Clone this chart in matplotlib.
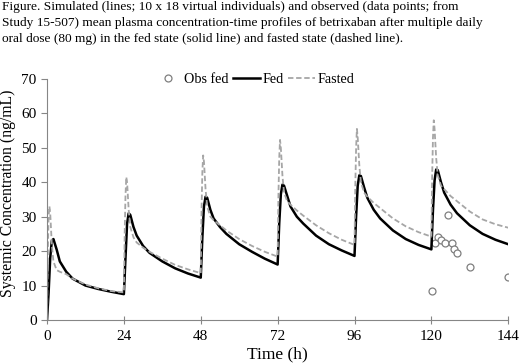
import matplotlib
matplotlib.use("Agg")
import matplotlib.pyplot as plt

plt.rcParams['font.family'] = ['Liberation Serif', 'DejaVu Serif']

# simulated fed profile (h, ng/mL)
fed_time = [0, 0.5, 1, 1.5, 2, 3, 4, 6, 8, 12, 16, 20, 24,
            24.5, 25, 25.5, 26, 27, 28, 30, 32, 36, 40, 44, 48,
            48.5, 49, 49.5, 50, 51, 52, 54, 56, 60, 64, 68, 72,
            72.5, 73, 73.5, 74, 75, 76, 78, 80, 84, 88, 92, 96,
            96.5, 97, 97.5, 98, 99, 100, 102, 104, 108, 112, 116, 120,
            120.5, 121, 121.5, 122, 123, 124, 126, 128, 132, 136, 140, 144]
fed_conc = [0, 8, 18, 23, 23.5, 20.5, 17, 14, 12, 10, 9, 8.2, 7.5,
            18, 28, 31, 30.5, 27, 24.5, 21.5, 19.5, 17, 15, 13.5, 12.3,
            24, 33, 35.8, 35.5, 32, 29.5, 27, 25, 22, 19.8, 17.8, 16.1,
            28, 36.5, 39.3, 39, 36, 33, 30, 28, 24.5, 22, 20.2, 18.6,
            30, 39, 42, 41.8, 38.5, 35.5, 32, 29.5, 26, 23.5, 21.8, 20.5,
            32, 40.5, 43.7, 43.5, 40, 37, 33.5, 31, 27.5, 25, 23.3, 22]

# simulated fasted profile
fasted_time = [0, 0.25, 0.5, 0.75, 1, 1.5, 2, 3, 4, 6, 8, 12, 16, 20, 24,
               24.25, 24.5, 24.75, 25, 25.5, 26, 27, 28, 30, 32, 36, 40, 44, 48,
               48.25, 48.5, 48.75, 49, 49.5, 50, 51, 52, 54, 56, 60, 64, 68, 72,
               72.25, 72.5, 72.75, 73, 73.5, 74, 75, 76, 78, 80, 84, 88, 92, 96,
               96.25, 96.5, 96.75, 97, 97.5, 98, 99, 100, 102, 104, 108, 112, 116, 120,
               120.25, 120.5, 120.75, 121, 121.5, 122, 123, 124, 126, 128, 132, 136, 140, 144]
fasted_conc = [0, 20, 30, 33, 31, 22, 17, 14.5, 14, 13.3, 12, 10.3, 9.2, 8.4, 8.0,
               25, 36, 41.5, 40, 32, 27, 24, 22.5, 21, 19.8, 17.8, 16, 14.7, 13.6,
               32, 43, 47.8, 46, 38, 33, 30, 29, 27.5, 26, 23.5, 21.5, 19.8, 18.4,
               36, 47, 52.3, 50, 42, 37, 34.5, 33.5, 31.8, 30.3, 27.5, 25.2, 23.3, 21.8,
               39, 50, 55.5, 53, 45, 40, 37, 35.8, 34, 32.5, 29.5, 27.2, 25.5, 24.2,
               42, 53, 58, 55.5, 47, 42, 39, 38, 36, 34.5, 31.5, 29.2, 27.8, 26.8]

# observed fed data (study 15-507)
obs_time = [120.2, 121.0, 122.1, 123.1, 124.2, 125.2, 126.3, 127.2, 128.1, 132.2, 144.0]
obs_conc = [8.5, 22.5, 24.2, 23.1, 22.3, 30.5, 22.5, 20.7, 19.5, 15.5, 12.5]

x_ticks = [0, 24, 48, 72, 96, 120, 144]

caption = ("Figure. Simulated (lines; 10 x 18 virtual individuals) and observed (data points; from\n"
           "Study 15-507) mean plasma concentration-time profiles of betrixaban after multiple daily\n"
           "oral dose (80 mg) in the fed state (solid line) and fasted state (dashed line).")

fig = plt.figure(figsize=(5.2, 3.64), dpi=100)
ax = fig.add_axes([0.0904, 0.121, 0.887, 0.662])

ax.plot(obs_time, obs_conc, 'o', mfc='white', mec='#7f7f7f', ms=5, mew=0.9, label='Obs fed')
ax.plot(fed_time, fed_conc, color='black', lw=1.8, label='Fed')
ax.plot(fasted_time, fasted_conc, color='#a6a6a6', lw=1.3, ls=(0, (3, 1.5)), label='Fasted')

ax.set_xlim(0, 144)
ax.set_ylim(0, 70)
ax.set_xticks(x_ticks)
ax.set_yticks(range(0, 71, 10))
for s in ['top', 'right']:
    ax.spines[s].set_visible(False)
for s in ['left', 'bottom']:
    ax.spines[s].set_color('#868686')
ax.tick_params(axis='x', direction='inout', length=6, color='#868686', labelsize=11, pad=4)
ax.tick_params(axis='y', direction='out', length=4, color='#868686', labelsize=11)

ax.set_xlabel('Time (h)', fontsize=12.5, labelpad=3)
ax.set_ylabel('Systemic Concentration (ng/mL)', fontsize=11.3)
ax.yaxis.set_label_coords(-0.068, 0.525)

ax.legend(loc='upper center', bbox_to_anchor=(0.45, 1.06), ncol=3, frameon=False,
          fontsize=10.2, handlelength=1.9, handletextpad=0.15, columnspacing=0.35,
          borderaxespad=0.2)

fig.text(0.004, 0.997, caption, ha='left', va='top', fontsize=9.6, linespacing=1.45)

fig.savefig('out.png', dpi=100)
